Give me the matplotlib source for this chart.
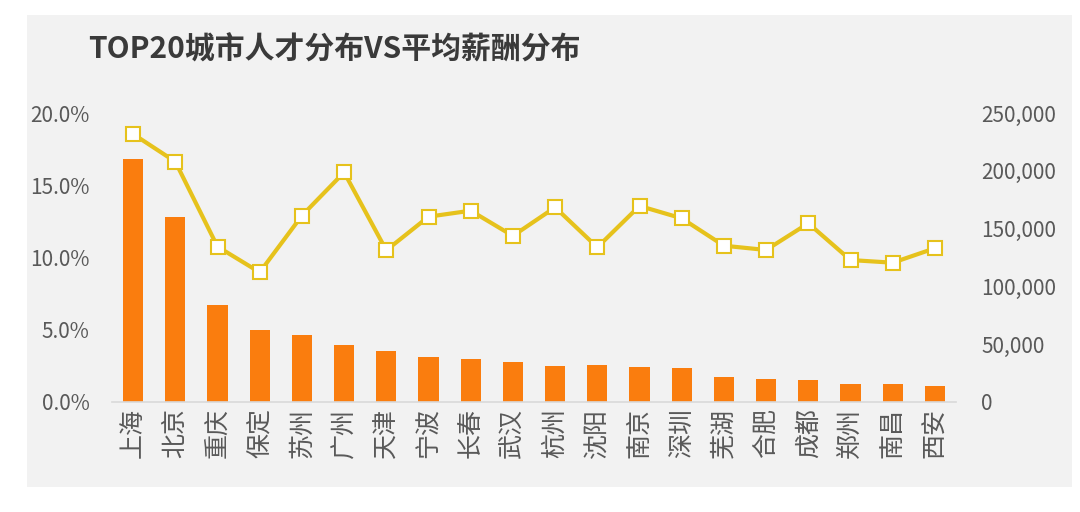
import matplotlib
matplotlib.use("Agg")
import matplotlib.pyplot as plt
from matplotlib.patches import Rectangle
from matplotlib.ticker import FuncFormatter, FixedLocator

plt.rcParams['font.family'] = ['Noto Sans CJK SC', 'DejaVu Sans']

cities = ["上海", "北京", "重庆", "保定", "苏州", "广州", "天津", "宁波", "长春", "武汉",
          "杭州", "沈阳", "南京", "深圳", "芜湖", "合肥", "成都", "郑州", "南昌", "西安"]
talent_pct = [16.8, 12.8, 6.7, 4.98, 4.62, 3.94, 3.53, 3.1, 2.98, 2.75,
              2.52, 2.54, 2.42, 2.33, 1.75, 1.57, 1.52, 1.22, 1.22, 1.11]
avg_salary = [231800, 207900, 134400, 112200, 161200, 198700, 131200, 160300, 165500, 143700,
              168400, 133800, 169600, 158900, 135200, 131500, 154600, 122800, 120500, 133000]
left_ticks = [0, 5, 10, 15, 20]
right_ticks = [0, 50000, 100000, 150000, 200000, 250000]
title = "TOP20城市人才分布VS平均薪酬分布"

W, H = 1080, 512
fig = plt.figure(figsize=(W / 100, H / 100), dpi=100, facecolor="white")
fig.patches.append(Rectangle((27 / W, 1 - 487 / H), (1072 - 27) / W, (487 - 15) / H,
                             transform=fig.transFigure, facecolor="#f2f2f2",
                             edgecolor="none", zorder=-10))

ax = fig.add_axes([112 / W, 1 - 402 / H, (956 - 112) / W, (402 - 113) / H])
ax.set_facecolor("none")
x = list(range(len(cities)))
ax.bar(x, talent_pct, width=0.48, color="#FA7D0E", zorder=2)
ax.set_xlim(-0.5, len(cities) - 0.5)
ax.set_ylim(0, 20)
ax.yaxis.set_major_locator(FixedLocator(left_ticks))
ax.yaxis.set_major_formatter(FuncFormatter(lambda v, p: f"{v:.1f}%"))
ax.set_xticks(x)
ax.set_xticklabels(cities, rotation=90, fontsize=18, color="#595959")
ax.tick_params(axis="x", length=0, pad=4)
ax.tick_params(axis="y", length=0, pad=16, labelsize=15, labelcolor="#595959")
for s in ["top", "left", "right"]:
    ax.spines[s].set_visible(False)
ax.spines["bottom"].set_color("#d9d9d9")
ax.spines["bottom"].set_linewidth(1.2)

ax2 = ax.twinx()
ax2.set_facecolor("none")
ax2.plot(x, avg_salary, color="#E6C21C", linewidth=3, marker="s", markersize=9.5,
         markerfacecolor="white", markeredgecolor="#E6C21C", markeredgewidth=1.5, zorder=3)
ax2.set_ylim(0, 250000)
ax2.yaxis.set_major_locator(FixedLocator(right_ticks))
ax2.yaxis.set_major_formatter(FuncFormatter(lambda v, p: f"{int(v):,}"))
ax2.tick_params(axis="y", length=0, pad=18, labelsize=15, labelcolor="#595959")
for s in ["top", "left", "right", "bottom"]:
    ax2.spines[s].set_visible(False)

fig.text(88 / W, 1 - 50 / H, title, fontsize=21.5, fontweight="heavy", color="#3a3a3a",
         ha="left", va="center")

fig.savefig("out.png", dpi=100, facecolor="white")
